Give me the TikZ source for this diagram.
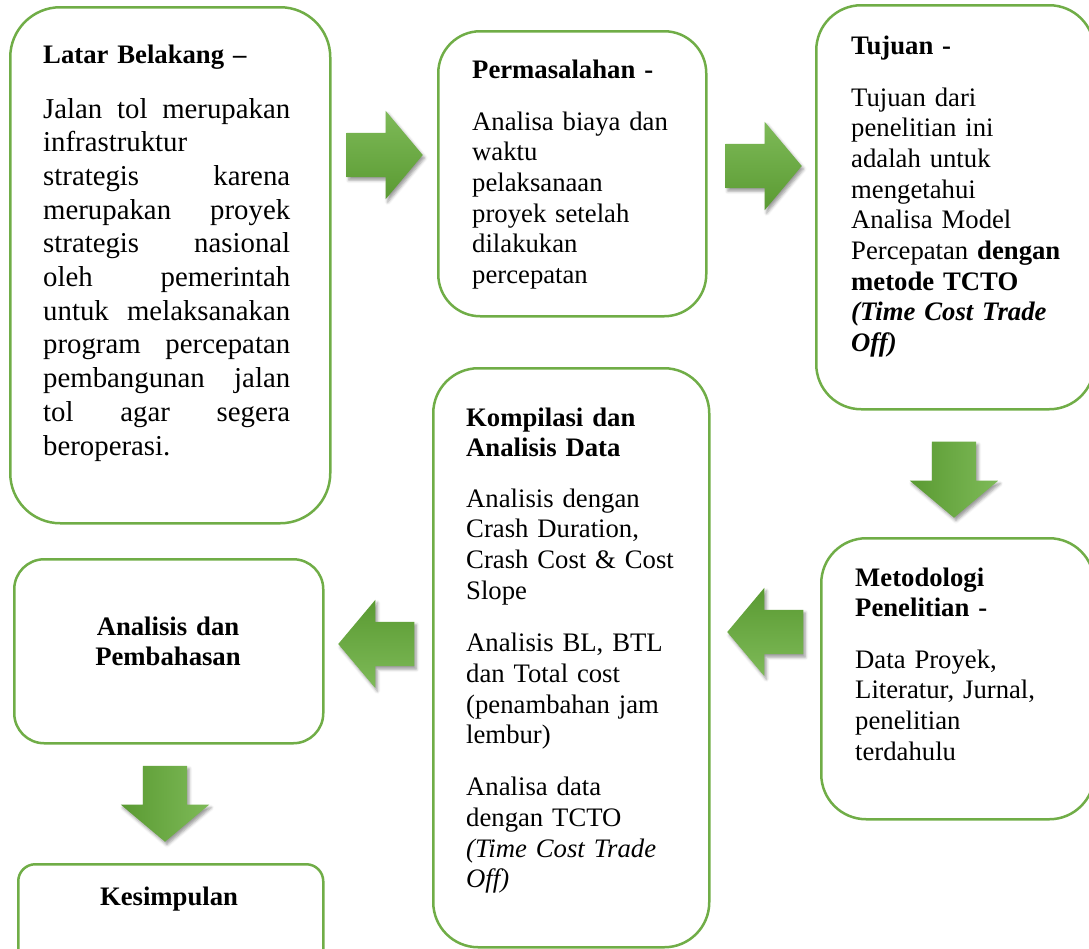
\documentclass[tikz,border=0pt]{standalone}
\usepackage{fontspec}
\setmainfont{Liberation Serif}
\usepackage{tikz}
\usetikzlibrary{shapes,arrows,shadows.blur}
\definecolor{boxgreen}{HTML}{70AD47}
\definecolor{arrdark}{HTML}{5A9A32}
\definecolor{arrlight}{HTML}{7EBA58}
\tikzset{
    block/.style = {draw=boxgreen, 
                    line width=2.5pt,
                    rectangle, 
                    rounded corners=#1,
                    anchor=north west,
                    inner sep=0pt
    },
    heading/.style = {anchor=base west,
                      inner sep=0pt,
                      align=left,
                      text width=250pt,
                      font=\fontsize{26.7}{30.7}\selectfont\bfseries
    },
    bodytext/.style = {anchor=base west,
                       inner sep=0pt,
                       align=left,
                       text width=#1,
                       font=\fontsize{26.7}{30.7}\selectfont
    },
    bigarrow/.style = {single arrow,
                       single arrow tip angle=100,
                       single arrow head extend=22pt,
                       minimum width=88pt,
                       minimum height=76pt,
                       anchor=tip,
                       blur shadow={shadow xshift=2pt, shadow yshift=-3pt,
                                    shadow blur radius=3pt, shadow opacity=40}
    },
    rarrow/.style = {bigarrow, shape border rotate=0,
                     inner xsep=0pt, inner ysep=22pt,
                     top color=arrlight, bottom color=arrdark},
    larrow/.style = {bigarrow, shape border rotate=180,
                     inner xsep=0pt, inner ysep=22pt,
                     top color=arrdark, bottom color=arrlight},
    darrow/.style = {bigarrow, shape border rotate=270,
                     inner xsep=22pt, inner ysep=0pt,
                     left color=arrdark, right color=arrlight}
}

\begin{document}
\begin{tikzpicture}[x=1pt, y=-1pt]
    \useasboundingbox (0,0) rectangle (1089,948);
    \clip (0,0) rectangle (1089,948);

    \node [block=50pt, minimum width=320pt, minimum height=516pt] (latar)  at (9,6)     {};
    \node [block=42pt, minimum width=268pt, minimum height=285pt] (masalah) at (437,30)  {};
    \node [block=45pt, minimum width=278pt, minimum height=404pt] (tujuan)  at (815,4)   {};
    \node [block=45pt, minimum width=273pt, minimum height=281pt] (metode)  at (820,537) {};
    \node [block=45pt, minimum width=276pt, minimum height=579pt] (kompil)  at (432,367) {};
    \node [block=30pt, minimum width=309pt, minimum height=184pt] (bahas)   at (13,558)  {};
    \node [block=17pt, minimum width=305pt, minimum height=105pt] (simpul)  at (17,863)  {};

    \node [heading] (latarhead) at (43,63) {Latar Belakang --};
    \node [bodytext=247pt, align=justify, font=\fontsize{28.8}{33.7}\selectfont]
          (latarbody) at (43,118)
          {Jalan tol merupakan\linebreak infrastruktur\newline strategis karena\linebreak
           merupakan proyek\linebreak strategis nasional\linebreak oleh pemerintah\linebreak
           untuk melaksanakan\linebreak program percepatan\linebreak pembangunan jalan\linebreak
           tol agar segera\linebreak beroperasi.};

    \node [heading] (masalahhead) at (472,78) {Permasalahan -};
    \node [bodytext=225pt] (masalahbody) at (472,130)
          {Analisa biaya dan\\ waktu\\ pelaksanaan\\ proyek setelah\\ dilakukan\\ percepatan};

    \node [heading] (tujuanhead) at (851,54) {Tujuan -};
    \node [bodytext=230pt] (tujuanbody) at (851,106)
          {Tujuan dari\\ penelitian ini\\ adalah untuk\\ mengetahui\\ Analisa Model\\
           Percepatan \textbf{dengan}\\ \textbf{metode TCTO}\\
           \textbf{\textit{(Time Cost Trade}}\\ \textbf{\textit{Off)}}};

    \node [heading] (metodehead) at (855,586) {Metodologi\\ Penelitian -};
    \node [bodytext=225pt] (metodebody) at (855,668)
          {Data Proyek,\\ Literatur, Jurnal,\\ penelitian\\ terdahulu};

    \node [heading] (kompilhead) at (466,426) {Kompilasi dan\\ Analisis Data};
    \node [bodytext=230pt] (kompilbody) at (466,507)
          {Analisis dengan\\ Crash Duration,\\ Crash Cost \& Cost\\ Slope\\[22pt]
           Analisis BL, BTL\\ dan Total cost\\ (penambahan jam\\ lembur)\\[21pt]
           Analisa data\\ dengan TCTO\\ \textit{(Time Cost Trade}\\ \textit{Off)}};

    \node [heading, anchor=base, align=center, text width=280pt] (bahashead) at (168,635)
          {Analisis dan\\ Pembahasan};
    \node [heading, anchor=base, align=center, text width=280pt] (simpulhead) at (169,905)
          {Kesimpulan};

    \node [rarrow] (a12) at (423,155) {};
    \node [rarrow] (a23) at (802,166) {};
    \node [darrow] (a34) at (954,518) {};
    \node [larrow] (a45) at (727,632) {};
    \node [larrow] (a56) at (338,644) {};
    \node [darrow] (a67) at (165,842) {};
\end{tikzpicture}
\end{document}
